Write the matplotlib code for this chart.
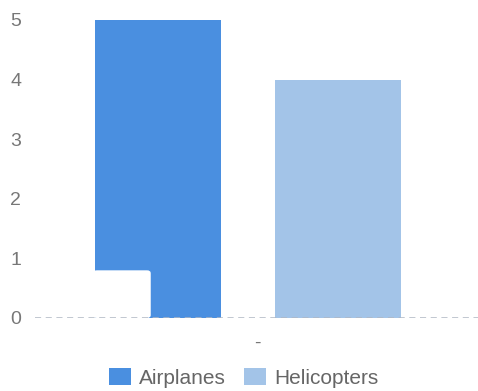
import matplotlib
matplotlib.use("Agg")
import matplotlib.pyplot as plt
from matplotlib.patches import FancyBboxPatch

categories = ["-"]
series_names = ["Airplanes", "Helicopters"]
series_values = [[5], [4]]
colors = ["#4a8fe0", "#a3c4e8"]
yticks = [0, 1, 2, 3, 4, 5]

plt.rcParams['font.family'] = ['Liberation Sans', 'DejaVu Sans']

W, H = 478, 391
fig = plt.figure(figsize=(W / 100, H / 100), dpi=100)
ax = fig.add_axes([35 / W, 1 - 318 / H, (478 - 35) / W, (318 - 20) / H])

offsets = [-0.55, 0.45]
width = 0.7
handles = []
for name, vals, c, off in zip(series_names, series_values, colors, offsets):
    b = ax.bar([i + off for i in range(len(categories))], vals, width=width,
               color=c, label=name, zorder=2)
    handles.append(b)

# white overlay box at the bottom-left of the first bar
box = FancyBboxPatch((-0.91, 0.0), 0.32, 0.8,
                     boxstyle="round,pad=0,rounding_size=0.02",
                     mutation_aspect=2.5,
                     facecolor="white", edgecolor="none", zorder=3)
ax.add_patch(box)

ax.axhline(0, color="#b0b8c4", linestyle=(0, (4, 3)), linewidth=1.1, zorder=4)

ax.set_xlim(-1.233, 1.228)
ax.set_ylim(0, 5)
ax.set_yticks(yticks)
ax.set_yticklabels([str(v) for v in yticks])
ax.set_xticks(range(len(categories)))
ax.set_xticklabels(categories)
for s in ax.spines.values():
    s.set_visible(False)
ax.tick_params(axis='y', length=0, pad=10, labelsize=14, labelcolor="#777777")
ax.tick_params(axis='x', length=0, pad=12, labelsize=14, labelcolor="#777777")

leg = fig.legend(handles=handles, labels=series_names, loc="center",
                 bbox_to_anchor=(244 / W, 1 - 378 / H), ncol=2, frameon=False,
                 fontsize=15, handlelength=1.06, handleheight=0.87,
                 handletextpad=0.38, columnspacing=0.87)
for t in leg.get_texts():
    t.set_color("#666666")

fig.savefig("out.png", dpi=100)
